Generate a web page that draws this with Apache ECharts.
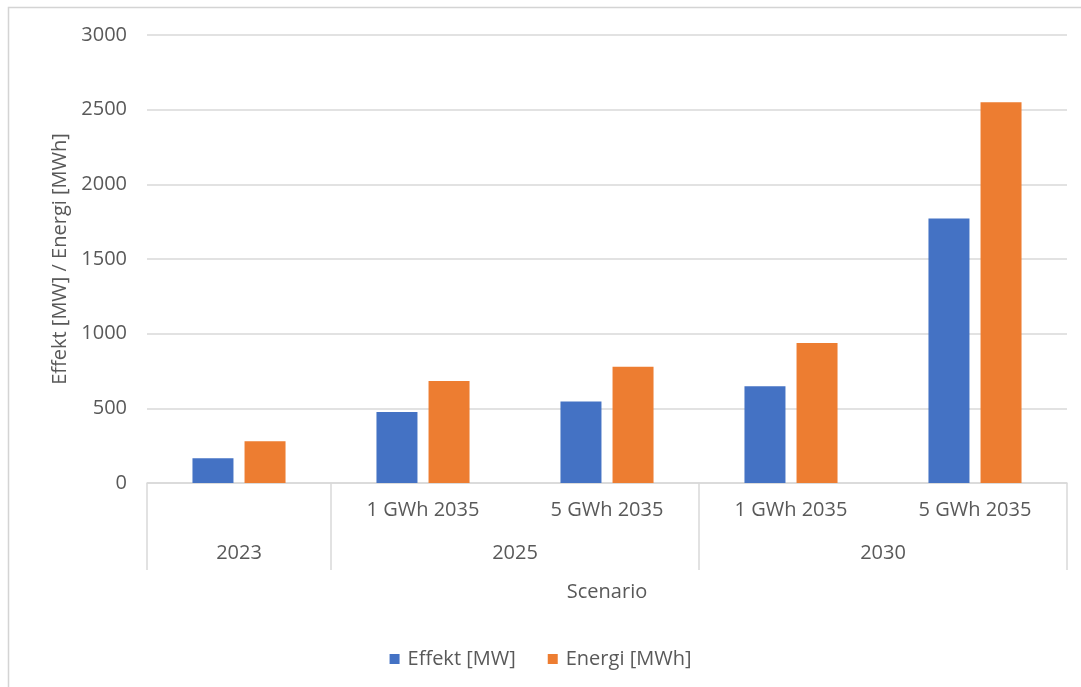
<!DOCTYPE html>
<html>
<head>
<meta charset="utf-8">
<script src="https://cdn.jsdelivr.net/npm/echarts@6/dist/echarts.min.js"></script>
<style>
  html, body { margin: 0; padding: 0; background: #ffffff; }
  #chart { width: 1081px; height: 687px; }
</style>
</head>
<body>
<div id="chart"></div>
<script>
// Scenario sub-categories (inner axis level) and their parent groups (outer level)
const subCategories = ['', '1 GWh 2035', '5 GWh 2035', '1 GWh 2035', '5 GWh 2035'];
const groupLabels = ['2023', '2025', '2030'];
const groupSpans = [1, 2, 2];

// Values per scenario
const effektMW = [165, 475, 545, 648, 1772];
const energiMWh = [279, 683, 778, 938, 2549];

const yTicks = [0, 500, 1000, 1500, 2000, 2500, 3000];

// Outer axis uses half-category slots so group labels can sit at each group's centre
// and separator ticks at each group's boundary.
const slotCount = subCategories.length * 2 + 1;
const outerSlots = new Array(slotCount).fill('');
const boundarySlots = [0];
const labelSlots = [];
let start = 0;
groupSpans.forEach(function (span, i) {
  const mid = start * 2 + span;
  outerSlots[mid] = groupLabels[i];
  labelSlots.push(mid);
  start += span;
  boundarySlots.push(start * 2);
});

const textColor = '#595959';
const lineColor = '#d9d9d9';
const font = 'Open Sans';
const fs = 20;

const chart = echarts.init(document.getElementById('chart'), null, { renderer: 'canvas' });

chart.setOption({
  backgroundColor: '#ffffff',
  animation: false,
  textStyle: { fontFamily: font, color: textColor },
  graphic: [{
    type: 'rect',
    shape: { x: 8.5, y: 7.5, width: 1100, height: 700 },
    style: { fill: 'none', stroke: '#d4d4d4', lineWidth: 1.5 },
    silent: true
  }],
  grid: { left: 147, right: 14, top: 35, bottom: 204 },
  legend: {
    bottom: 13,
    left: 'center',
    itemWidth: 10,
    itemHeight: 10,
    itemGap: 32,
    icon: 'rect',
    textStyle: { fontFamily: font, fontSize: fs, color: textColor, padding: [0, 0, 0, 3] },
    data: ['Effekt [MW]', 'Energi [MWh]']
  },
  xAxis: [{
    type: 'category',
    data: subCategories,
    boundaryGap: true,
    axisLine: { lineStyle: { color: lineColor, width: 1.5 } },
    axisTick: { show: false },
    axisLabel: { interval: 0, margin: 17, fontSize: fs, color: textColor, fontFamily: font },
    name: 'Scenario',
    nameLocation: 'middle',
    nameGap: 99,
    nameTextStyle: { fontSize: fs, color: textColor, fontFamily: font }
  }, {
    type: 'category',
    data: outerSlots,
    boundaryGap: false,
    position: 'bottom',
    axisLine: { show: false },
    axisTick: {
      show: true,
      length: 87,
      interval: function (index) { return boundarySlots.indexOf(index) !== -1; },
      lineStyle: { color: lineColor, width: 1.5 }
    },
    axisLabel: {
      margin: 60,
      fontSize: fs,
      color: textColor,
      fontFamily: font,
      interval: function (index) { return labelSlots.indexOf(index) !== -1; }
    },
    splitLine: { show: false }
  }],
  yAxis: {
    type: 'value',
    min: yTicks[0],
    max: yTicks[yTicks.length - 1],
    interval: yTicks[1] - yTicks[0],
    axisLine: { show: false },
    axisTick: { show: false },
    splitLine: { lineStyle: { color: lineColor, width: 1.5 } },
    axisLabel: {
      margin: 20,
      fontSize: fs,
      color: textColor,
      fontFamily: font,
      formatter: function (v) { return String(v); }
    },
    name: 'Effekt [MW] / Energi [MWh]',
    nameLocation: 'middle',
    nameGap: 76,
    nameTextStyle: { fontSize: fs, color: textColor, fontFamily: font }
  },
  series: [{
    name: 'Effekt [MW]',
    type: 'bar',
    xAxisIndex: 0,
    data: effektMW,
    barWidth: 41,
    barGap: '27%',
    itemStyle: { color: '#4472C4' }
  }, {
    name: 'Energi [MWh]',
    type: 'bar',
    xAxisIndex: 0,
    data: energiMWh,
    barWidth: 41,
    barGap: '27%',
    itemStyle: { color: '#ED7D31' }
  }]
});
</script>
</body>
</html>
